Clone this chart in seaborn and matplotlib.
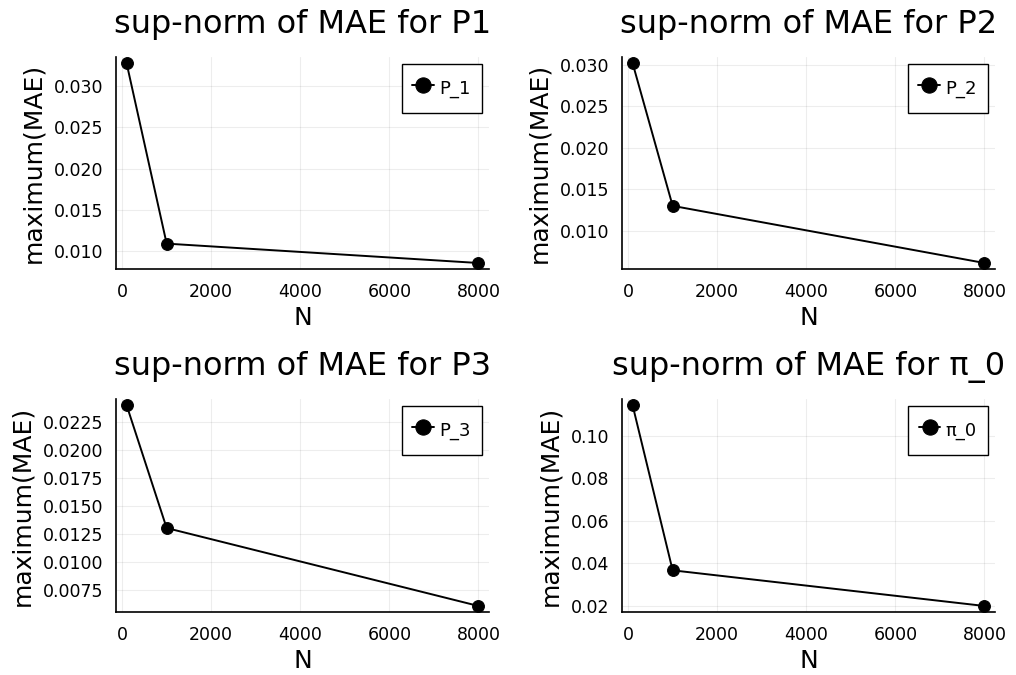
import numpy as np
import pandas as pd
import matplotlib
matplotlib.use("Agg")
import matplotlib.pyplot as plt
from matplotlib.ticker import FixedLocator, FormatStrFormatter
import seaborn as sns

# Data
N_values = [100, 1000, 8000]
mae_p1 = [0.0328, 0.0109, 0.00855]
mae_p2 = [0.0302, 0.0130, 0.00612]
mae_p3 = [0.0240, 0.01303, 0.00608]
mae_pi0 = [0.1146, 0.0367, 0.0199]

titles = ["sup-norm of MAE for P1", "sup-norm of MAE for P2",
          "sup-norm of MAE for P3", "sup-norm of MAE for π_0"]
labels = ["P_1", "P_2", "P_3", "π_0"]
series = [mae_p1, mae_p2, mae_p3, mae_pi0]
yticks = [
    [0.010, 0.015, 0.020, 0.025, 0.030],
    [0.010, 0.015, 0.020, 0.025, 0.030],
    [0.0075, 0.0100, 0.0125, 0.0150, 0.0175, 0.0200, 0.0225],
    [0.02, 0.04, 0.06, 0.08, 0.10],
]
yfmt = ["%.3f", "%.3f", "%.4f", "%.2f"]
xticks = [0, 2000, 4000, 6000, 8000]

sns.set_theme(style="white")
plt.rcParams['font.family'] = ['DejaVu Sans']
plt.rcParams['text.color'] = 'black'
plt.rcParams['axes.labelcolor'] = 'black'

W, H = 1016, 675
fig = plt.figure(figsize=(W / 100, H / 100), dpi=100)

# axes boxes in pixels: left, top, right, bottom
boxes = [
    (116, 57, 489, 269),
    (622, 57, 995, 269),
    (116, 399, 489, 612),
    (622, 399, 995, 612),
]

for i in range(4):
    l, t, r, b = boxes[i]
    ax = fig.add_axes([l / W, 1 - b / H, (r - l) / W, (b - t) / H])
    df = pd.DataFrame({"N": N_values, "MAE": series[i]})
    sns.lineplot(data=df, x="N", y="MAE", ax=ax, color="black", marker="o",
                 markersize=8.5, markeredgecolor="black", linewidth=1.4,
                 label=labels[i])
    ax.margins(x=0.03, y=0.03)
    ax.xaxis.set_major_locator(FixedLocator(xticks))
    ax.yaxis.set_major_locator(FixedLocator(yticks[i]))
    ax.yaxis.set_major_formatter(FormatStrFormatter(yfmt[i]))
    ax.grid(True, color="black", alpha=0.07, linewidth=0.8)
    for s in ["top", "right"]:
        ax.spines[s].set_visible(False)
    for s in ["left", "bottom"]:
        ax.spines[s].set_color("black")
        ax.spines[s].set_linewidth(1.2)
    ax.tick_params(axis="both", direction="in", length=3, width=0.8,
                   labelsize=12.5, colors="black")
    ax.tick_params(axis="x", pad=10)
    ax.tick_params(axis="y", pad=9)
    ax.set_xlabel("N", fontsize=18, labelpad=4)
    ax.set_ylabel("maximum(MAE)", fontsize=18, labelpad=6)
    ax.set_title(titles[i], fontsize=23, pad=17, color="black")
    leg = ax.legend(loc="upper right", fontsize=13, frameon=True,
                    fancybox=False, framealpha=1, edgecolor="black",
                    handlelength=1.2, handletextpad=0.3, borderpad=0.6,
                    handleheight=1.9, borderaxespad=0.4)
    leg.get_frame().set_linewidth(1.0)
    for h in leg.legend_handles:
        h.set_markersize(11)

fig.savefig("out.png", dpi=100)
